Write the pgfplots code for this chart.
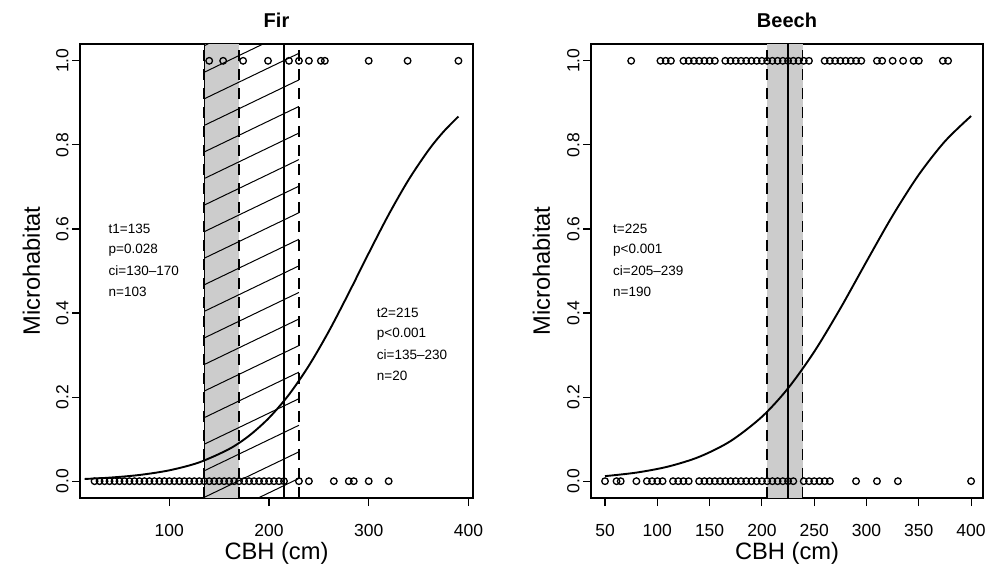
\documentclass[border=0pt]{standalone}
\usepackage{fontspec}
\setmainfont{Liberation Sans}
\usepackage{pgfplots}
\pgfplotsset{compat=1.18}
\newcommand\ann{\fontsize{13.5}{15}\selectfont}
\pgfplotsset{
  rstyle/.style={
    scale only axis, height=454pt,
    ymin=-0.04, ymax=1.04,
    axis line style={line width=1.1pt},
    every tick/.style={line width=1.1pt, black},
    major tick length=8pt,
    tick align=outside,
    tick pos=left,
    ytick={0,0.2,0.4,0.6,0.8,1},
    yticklabel={\pgfmathprintnumber[fixed,fixed zerofill,precision=1]{\tick}},
    /pgf/number format/assume math mode=true,
    tick label style={font=\fontsize{17.5}{20}\selectfont},
    yticklabel style={rotate=90, anchor=south},
    xticklabel style={yshift=-15pt},
    label style={font=\fontsize{23.7}{26}\selectfont},
    xlabel style={at={(axis description cs:0.5,-0.135)}, anchor=base},
    title style={font=\bfseries\fontsize{20}{22}\selectfont, at={(axis description cs:0.5,1.024)}, anchor=base},
  },
  pts/.style={only marks, mark=o, mark size=3.3pt, black, mark options={line width=1.3pt}},
  curve/.style={line width=1.9pt, black, smooth},
  vsolid/.style={line width=1.3pt, black},
  vdash/.style={line width=1.5pt, black, dash pattern=on 11pt off 8pt},
  hatch/.style={line width=1pt, black},
}
\begin{document}
\begin{tikzpicture}
\useasboundingbox (0,0) rectangle (985pt,565pt);
% ---------------- Fir ----------------
\begin{axis}[rstyle, at={(80pt,67pt)}, anchor=south west, width=393pt,
  xmin=10.4, xmax=404.6, xtick={100,200,300,400},
  title={Fir}, xlabel={CBH (cm)}, ylabel={Microhabitat},
  ylabel style={at={(axis description cs:-0.102,0.5)}, anchor=base}]
\addplot[fill=black!20, draw=none] coordinates {(135,-0.04) (170,-0.04) (170,1.04) (135,1.04)} -- cycle;
\addplot[hatch] coordinates {(135,1.0359) (230,1.1442)};
\addplot[hatch] coordinates {(135,0.9727) (230,1.0810)};
\addplot[hatch] coordinates {(135,0.9095) (230,1.0178)};
\addplot[hatch] coordinates {(135,0.8463) (230,0.9546)};
\addplot[hatch] coordinates {(135,0.7831) (230,0.8914)};
\addplot[hatch] coordinates {(135,0.7199) (230,0.8282)};
\addplot[hatch] coordinates {(135,0.6567) (230,0.7650)};
\addplot[hatch] coordinates {(135,0.5935) (230,0.7018)};
\addplot[hatch] coordinates {(135,0.5303) (230,0.6386)};
\addplot[hatch] coordinates {(135,0.4671) (230,0.5754)};
\addplot[hatch] coordinates {(135,0.4039) (230,0.5122)};
\addplot[hatch] coordinates {(135,0.3407) (230,0.4490)};
\addplot[hatch] coordinates {(135,0.2775) (230,0.3858)};
\addplot[hatch] coordinates {(135,0.2143) (230,0.3226)};
\addplot[hatch] coordinates {(135,0.1511) (230,0.2594)};
\addplot[hatch] coordinates {(135,0.0879) (230,0.1962)};
\addplot[hatch] coordinates {(135,0.0247) (230,0.1330)};
\addplot[hatch] coordinates {(135,-0.0385) (230,0.0698)};
\addplot[hatch] coordinates {(135,-0.1017) (230,0.0066)};
\addplot[vsolid] coordinates {(135,-0.04) (135,1.04)};
\addplot[vdash, line width=2pt] coordinates {(135,-0.04) (135,1.04)};
\addplot[vdash] coordinates {(170,-0.04) (170,1.04)};
\addplot[vsolid] coordinates {(215,-0.04) (215,1.04)};
\addplot[vdash] coordinates {(230,-0.04) (230,1.04)};
\addplot[pts] coordinates {(140,1) (154,1) (174,1) (199,1) (220,1) (230,1) (240,1) (252,1) (256,1) (300,1) (339,1) (390,1)};
\addplot[pts] coordinates {(25,0) (30,0) (35,0) (40,0) (45,0) (50,0) (55,0) (60,0) (65,0) (70,0) (75,0) (80,0) (85,0) (90,0) (95,0) (100,0) (105,0) (110,0) (115,0) (120,0) (125,0) (130,0) (135,0) (140,0) (145,0) (150,0) (155,0) (160,0) (165,0) (170,0) (175,0) (180,0) (185,0) (190,0) (195,0) (200,0) (205,0) (210,0) (215,0) (230,0) (240,0) (265,0) (280,0) (285,0) (300,0) (320,0)};
\addplot[curve] coordinates {(15,0.00525) (40,0.00841) (70,0.01477) (100,0.02583) (130,0.04477) (160,0.07655) (180,0.1081) (200,0.1506) (220,0.2059) (240,0.2749) (260,0.3566) (280,0.4477) (300,0.5424) (320,0.6341) (340,0.7170) (360,0.7875) (375,0.8313) (390,0.8676)};
\node[anchor=west, inner sep=0pt, font=\ann] at (axis cs:39,0.60) {t1=135};
\node[anchor=west, inner sep=0pt, font=\ann] at (axis cs:39,0.55) {p=0.028};
\node[anchor=west, inner sep=0pt, font=\ann] at (axis cs:39,0.50) {ci=130--170};
\node[anchor=west, inner sep=0pt, font=\ann] at (axis cs:39,0.45) {n=103};
\node[anchor=west, inner sep=0pt, font=\ann] at (axis cs:308,0.40) {t2=215};
\node[anchor=west, inner sep=0pt, font=\ann] at (axis cs:308,0.35) {p<0.001};
\node[anchor=west, inner sep=0pt, font=\ann] at (axis cs:308,0.30) {ci=135--230};
\node[anchor=west, inner sep=0pt, font=\ann] at (axis cs:308,0.25) {n=20};
\end{axis}
% ---------------- Beech ----------------
\begin{axis}[rstyle, at={(591pt,67pt)}, anchor=south west, width=392pt,
  xmin=36.6, xmax=411.4, xtick={50,100,150,200,250,300,350,400},
  title={Beech}, xlabel={CBH (cm)}, ylabel={Microhabitat},
  ylabel style={at={(axis description cs:-0.105,0.5)}, anchor=base}]
\addplot[fill=black!20, draw=none] coordinates {(205,-0.04) (239,-0.04) (239,1.04) (205,1.04)} -- cycle;
\addplot[vdash] coordinates {(205,-0.04) (205,1.04)};
\addplot[vsolid] coordinates {(225,-0.04) (225,1.04)};
\addplot[vdash] coordinates {(239,-0.04) (239,1.04)};
\addplot[pts] coordinates {(75,1) (103,1) (108,1) (113,1) (125,1) (130,1) (135,1) (140,1) (145,1) (150,1) (155,1) (165,1) (170,1) (175,1) (180,1) (185,1) (190,1) (195,1) (200,1) (205,1) (210,1) (215,1) (220,1) (225,1) (230,1) (235,1) (240,1) (245,1) (260,1) (265,1) (270,1) (275,1) (280,1) (285,1) (290,1) (295,1) (310,1) (315,1) (325,1) (335,1) (345,1) (350,1) (373,1) (378,1)};
\addplot[pts] coordinates {(50,0) (61,0) (65,0) (80,0) (90,0) (95,0) (100,0) (105,0) (115,0) (120,0) (125,0) (130,0) (140,0) (145,0) (150,0) (155,0) (160,0) (165,0) (170,0) (175,0) (180,0) (185,0) (190,0) (195,0) (200,0) (205,0) (210,0) (215,0) (220,0) (225,0) (230,0) (240,0) (245,0) (250,0) (255,0) (260,0) (265,0) (290,0) (310,0) (330,0) (400,0)};
\addplot[curve] coordinates {(50,0.01201) (80,0.02043) (110,0.03456) (140,0.05787) (170,0.09535) (200,0.1532) (225,0.2210) (250,0.3079) (275,0.4110) (300,0.5225) (325,0.6318) (350,0.7291) (375,0.8085) (400,0.8687)};
\node[anchor=west, inner sep=0pt, font=\ann] at (axis cs:57.6,0.60) {t=225};
\node[anchor=west, inner sep=0pt, font=\ann] at (axis cs:57.6,0.55) {p<0.001};
\node[anchor=west, inner sep=0pt, font=\ann] at (axis cs:57.6,0.50) {ci=205--239};
\node[anchor=west, inner sep=0pt, font=\ann] at (axis cs:57.6,0.45) {n=190};
\end{axis}
\end{tikzpicture}
\end{document}
